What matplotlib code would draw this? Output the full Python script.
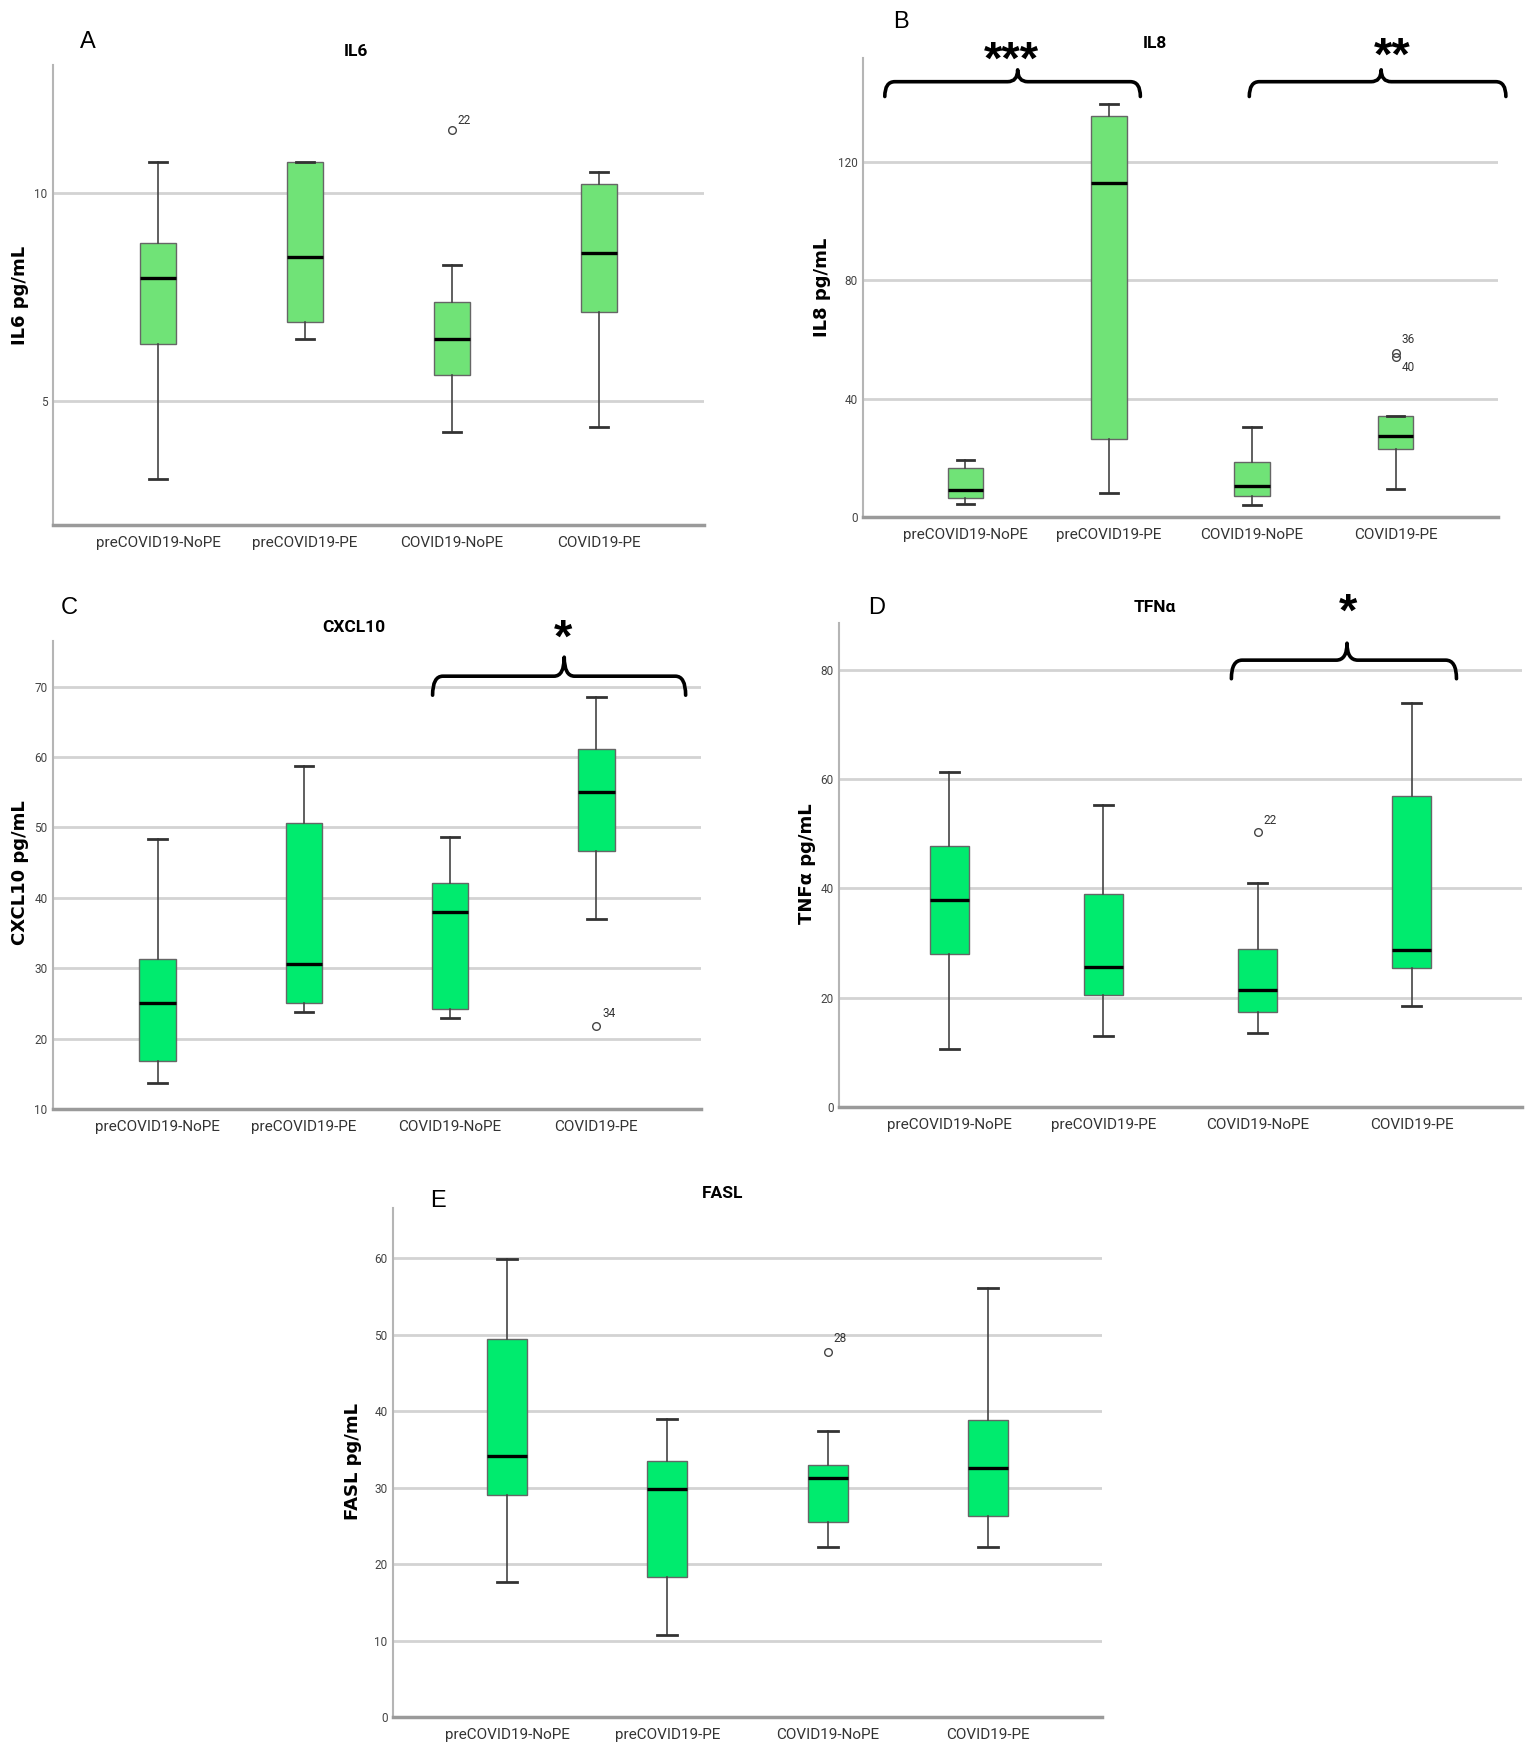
import numpy as np
import matplotlib.pyplot as plt
from matplotlib.path import Path
from matplotlib.patches import PathPatch

groups = ['preCOVID19-NoPE', 'preCOVID19-PE', 'COVID19-NoPE', 'COVID19-PE']

# IL6
il6_whislo = [3.11, 6.50, 4.24, 4.36]
il6_q1 = [6.37, 6.89, 5.61, 7.14]
il6_med = [7.97, 8.47, 6.48, 8.56]
il6_q3 = [8.81, 10.76, 7.38, 10.23]
il6_whishi = [10.76, 10.76, 8.28, 10.51]
il6_out = [[], [], [11.52], []]
il6_out_ids = [[], [], ['22'], []]

# IL8
il8_whislo = [4.25, 8.0, 4.0, 9.5]
il8_q1 = [6.5, 26.5, 7.25, 23.0]
il8_med = [9.25, 112.9, 10.6, 27.25]
il8_q3 = [16.5, 135.25, 18.5, 34.25]
il8_whishi = [19.25, 139.4, 30.25, 34.25]
il8_out = [[], [], [], [55.3, 54.0]]
il8_out_ids = [[], [], [], ['36', '40']]

# CXCL10
cxcl10_whislo = [13.7, 23.8, 22.9, 37.0]
cxcl10_q1 = [16.8, 25.1, 24.2, 46.6]
cxcl10_med = [25.1, 30.6, 38.0, 55.1]
cxcl10_q3 = [31.3, 50.7, 42.1, 61.2]
cxcl10_whishi = [48.3, 58.8, 48.7, 68.6]
cxcl10_out = [[], [], [], [21.8]]
cxcl10_out_ids = [[], [], [], ['34']]

# TNFa
tnf_whislo = [10.6, 13.0, 13.6, 18.4]
tnf_q1 = [28.0, 20.5, 17.4, 25.4]
tnf_med = [37.9, 25.7, 21.4, 28.8]
tnf_q3 = [47.7, 39.0, 29.0, 56.9]
tnf_whishi = [61.3, 55.3, 41.0, 73.9]
tnf_out = [[], [], [50.3], []]
tnf_out_ids = [[], [], ['22'], []]

# FASL
fasl_whislo = [17.7, 10.7, 22.3, 22.3]
fasl_q1 = [29.1, 18.3, 25.5, 26.3]
fasl_med = [34.1, 29.8, 31.3, 32.6]
fasl_q3 = [49.5, 33.5, 33.0, 38.8]
fasl_whishi = [59.9, 39.0, 37.4, 56.1]
fasl_out = [[], [], [47.8], []]
fasl_out_ids = [[], [], ['28'], []]

W, H = 1533, 1759
NARROW = ['Roboto', 'DejaVu Sans']
light_green = '#70e377'
bright_green = '#00eb6e'

fig = plt.figure(figsize=(W / 100, H / 100), dpi=100)
fig.patch.set_facecolor('white')


def rect(l, t, r, b):
    return [l / W, 1 - b / H, (r - l) / W, (b - t) / H]


def ftext(x, y, s, **kw):
    fig.text(x / W, 1 - y / H, s, **kw)


def brace(ax, x0, x1, xc, yh, yend, ypeak, r=0.07):
    verts = [(x0, yend), (x0, yh), (x0 + r, yh),
             (xc - r, yh), (xc, yh), (xc, ypeak),
             (xc, yh), (xc + r, yh),
             (x1 - r, yh), (x1, yh), (x1, yend)]
    codes = [Path.MOVETO, Path.CURVE3, Path.CURVE3,
             Path.LINETO, Path.CURVE3, Path.CURVE3,
             Path.CURVE3, Path.CURVE3,
             Path.LINETO, Path.CURVE3, Path.CURVE3]
    ax.add_patch(PathPatch(Path(verts, codes), fill=False, lw=2.6, ec='black',
                           clip_on=False, capstyle='round', joinstyle='round'))


def stars(ax, x, y, s, fs=34):
    # y is the visual centre of the asterisks
    ax.annotate(s, (x, y), xytext=(0, -0.42 * fs), textcoords='offset points',
                fontsize=fs, fontweight='bold', ha='center', va='baseline',
                family=['Liberation Sans', 'DejaVu Sans'], annotation_clip=False)


def panel(box, whislo, q1, med, q3, whishi, out, out_ids, ylim, yticks, color, id_dy):
    ax = fig.add_axes(box)
    stats = []
    for i in range(4):
        stats.append(dict(whislo=whislo[i], q1=q1[i], med=med[i], q3=q3[i],
                          whishi=whishi[i], fliers=[]))
    pos = np.arange(1, 5)
    ax.bxp(stats, positions=pos, widths=0.25, capwidths=0.125, patch_artist=True,
           showfliers=False,
           boxprops=dict(facecolor=color, edgecolor='#666666', linewidth=1.0),
           medianprops=dict(color='black', linewidth=2.4),
           whiskerprops=dict(color='#444444', linewidth=1.2),
           capprops=dict(color='#333333', linewidth=2.0), zorder=3)
    for i in range(4):
        for v in out[i]:
            ax.plot(pos[i], v, 'o', mfc='none', mec='#444444', ms=5.5, mew=1.0, zorder=4)
        if len(out_ids[i]) == 1:
            ax.text(pos[i] + 0.04, out[i][0] + id_dy, out_ids[i][0], fontsize=8.5,
                    family=NARROW, color='#333333', va='center', ha='left')
        elif len(out_ids[i]) == 2:
            ax.text(pos[i] + 0.04, max(out[i]) + id_dy * 1.6, out_ids[i][0], fontsize=8.5,
                    family=NARROW, color='#333333', va='center', ha='left')
            ax.text(pos[i] + 0.04, min(out[i]) - id_dy * 1.2, out_ids[i][1], fontsize=8.5,
                    family=NARROW, color='#333333', va='center', ha='left')
    ax.set_xlim(0.285, 4.715)
    ax.set_ylim(*ylim)
    ax.set_yticks(yticks)
    ax.set_yticklabels([str(t) for t in yticks], fontsize=8.5, family=NARROW, color='#444444')
    ax.set_xticks(pos)
    ax.set_xticklabels(groups, fontsize=11, family=NARROW, color='#333333')
    ax.tick_params(axis='both', length=0)
    ax.tick_params(axis='x', pad=8)
    ax.tick_params(axis='y', pad=4)
    for t in yticks:
        ax.axhline(t, color='#d3d3d3', lw=2.0, zorder=1)
    for s in ['top', 'right']:
        ax.spines[s].set_visible(False)
    ax.spines['left'].set_color('#b5b5b5')
    ax.spines['left'].set_linewidth(1.5)
    ax.spines['bottom'].set_color('#9a9a9a')
    ax.spines['bottom'].set_linewidth(2.5)
    ax.set_facecolor('none')
    return ax


axA = panel(rect(53, 65, 704, 525), il6_whislo, il6_q1, il6_med, il6_q3, il6_whishi,
            il6_out, il6_out_ids, (2.0, 13.1), [5, 10], light_green, 0.25)
axB = panel(rect(863, 58, 1498, 517), il8_whislo, il8_q1, il8_med, il8_q3, il8_whishi,
            il8_out, il8_out_ids, (0, 155), [0, 40, 80, 120], light_green, 2.8)
axC = panel(rect(53, 641, 701, 1109), cxcl10_whislo, cxcl10_q1, cxcl10_med, cxcl10_q3,
            cxcl10_whishi, cxcl10_out, cxcl10_out_ids, (10, 76.5),
            [10, 20, 30, 40, 50, 60, 70], bright_green, 1.8)
axD = panel(rect(839, 623, 1522, 1107), tnf_whislo, tnf_q1, tnf_med, tnf_q3, tnf_whishi,
            tnf_out, tnf_out_ids, (0, 88.6), [0, 20, 40, 60, 80], bright_green, 2.2)
axE = panel(rect(393, 1208, 1102, 1717), fasl_whislo, fasl_q1, fasl_med, fasl_q3,
            fasl_whishi, fasl_out, fasl_out_ids, (0, 66.6),
            [0, 10, 20, 30, 40, 50, 60], bright_green, 1.7)

# significance braces
brace(axB, 0.437, 2.22, 1.364, 147, 142, 151)
brace(axB, 2.98, 4.77, 3.90, 147, 142, 151)
stars(axB, 1.32, 156.3, '***')
stars(axB, 3.98, 157.7, '**')
brace(axC, 2.88, 4.61, 3.78, 71.5, 68.8, 74.2)
stars(axC, 3.77, 77.8, '*')
brace(axD, 2.83, 4.29, 3.58, 81.8, 78.4, 84.9)
stars(axD, 3.59, 91.8, '*')

# titles
for x, y, s in [(356, 52, 'IL6'), (1155, 43, 'IL8'), (354, 627, 'CXCL10'),
                (1155, 608, 'TFNα'), (723, 1194, 'FASL')]:
    ftext(x, y, s, fontsize=12.5, fontweight='bold', family=NARROW, ha='center', va='center')

# panel letters
for x, y, s in [(88, 42, 'A'), (901, 22, 'B'), (69, 608, 'C'), (877, 608, 'D'), (438, 1201, 'E')]:
    ftext(x, y, s, fontsize=17, family=['Liberation Sans', 'DejaVu Sans'], ha='center', va='center')

# y labels
for x, y, s in [(20, 295, 'IL6 pg/mL'), (822, 287, 'IL8 pg/mL'), (20, 873, 'CXCL10 pg/mL'),
                (807, 864, 'TNFα pg/mL'), (353, 1461, 'FASL pg/mL')]:
    ftext(x, y, s, fontsize=13, fontweight='bold', rotation=90, ha='center', va='center')

fig.savefig('out.png', dpi=100)
